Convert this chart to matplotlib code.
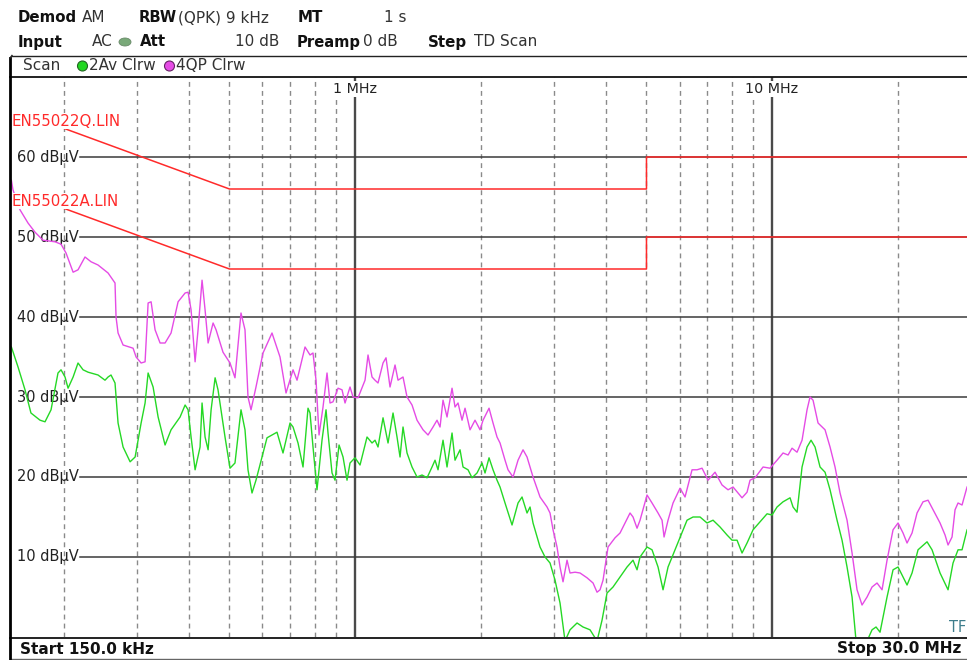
import matplotlib
matplotlib.use('Agg')
import matplotlib.pyplot as plt
from matplotlib.lines import Line2D
from matplotlib.patches import Ellipse
import matplotlib.transforms as mtransforms

W, H = 967, 660

# ---------------- data (frequency in MHz, level in dBµV) ----------------
qp_freq = [0.150, 0.1513, 0.1573, 0.1644, 0.1709, 0.1786, 0.1909, 0.1973, 0.2028, 0.2109,
           0.2167, 0.2252, 0.2329, 0.2420, 0.2558, 0.2658, 0.2673, 0.2703, 0.2779, 0.2937,
           0.2986, 0.3070, 0.3138, 0.3191, 0.3244, 0.3316, 0.3409, 0.3504, 0.3622, 0.3765,
           0.3914, 0.3979, 0.4045, 0.4136, 0.4204, 0.4298, 0.4370, 0.4444, 0.4568, 0.4644,
           0.4825, 0.5015, 0.5155, 0.5329, 0.5448, 0.5539, 0.5632, 0.5789, 0.6018, 0.6324,
           0.6610, 0.6833, 0.7103, 0.7261, 0.7589, 0.7801, 0.7931, 0.8064, 0.8199, 0.8382,
           0.8569, 0.8712, 0.8858, 0.9106, 0.9309, 0.9465, 0.9729, 0.9892, 1.0169, 1.0570,
           1.0746, 1.0986, 1.1169, 1.1356, 1.1674, 1.1868, 1.2134, 1.2474, 1.2682, 1.3037,
           1.3328, 1.3701, 1.4085, 1.4559, 1.4967, 1.5386, 1.5729, 1.5992, 1.6259, 1.6622,
           1.7088, 1.7373, 1.7664, 1.8058, 1.8360, 1.8873, 1.9401, 1.9945, 2.0278, 2.0962,
           2.1429, 2.1907, 2.2273, 2.2897, 2.3280, 2.3931, 2.4601, 2.5289, 2.5854, 2.6286,
           2.6725, 2.7778, 2.8873, 2.9355, 2.9845, 3.0511, 3.1021, 3.1539, 3.2243, 3.2782,
           3.3700, 3.4644, 3.6009, 3.7222, 3.8053, 3.8689, 3.9335, 4.0436, 4.2030, 4.3206,
           4.4416, 4.5659, 4.6422, 4.7459, 4.8251, 5.0152, 5.1556, 5.3294, 5.4484, 5.5093,
           5.6320, 5.7896, 6.0177, 6.1862, 6.4300, 6.6101, 6.7951, 7.0239, 7.3008, 7.5884,
           7.8440, 8.0636, 8.2894, 8.4744, 8.7117, 8.8572, 9.1052, 9.5163, 9.8913, 10.281,
           10.628, 10.925, 11.169, 11.481, 11.803, 12.133, 12.336, 12.542, 12.893, 13.401,
           13.776, 14.161, 14.558, 15.132, 15.556, 15.991, 16.438, 16.899, 17.372, 17.858,
           18.358, 18.872, 19.507, 20.053, 20.615, 21.075, 21.665, 22.271, 23.021, 23.665,
           24.328, 25.287, 25.995, 26.429, 27.019, 27.470, 27.929, 28.553, 29.352, 30.0]
qp_level = [57.1, 55.9, 53.4, 51.75, 50.6, 49.6, 49.4, 49.1, 48.0, 45.6,
            45.9, 47.5, 46.9, 46.5, 45.5, 44.25, 40.0, 38.0, 36.5, 36.1,
            35.0, 34.25, 34.4, 41.75, 41.9, 38.4, 36.75, 36.75, 38.0, 41.9,
            43.0, 43.1, 40.9, 34.4, 38.4, 44.6, 40.9, 36.75, 39.25, 38.4,
            35.6, 34.25, 32.4, 40.5, 38.4, 30.0, 28.4, 31.25, 35.5, 38.0,
            35.0, 30.5, 33.4, 32.1, 36.25, 35.25, 35.5, 32.1, 25.25, 28.75,
            33.0, 29.25, 29.4, 31.1, 30.9, 29.25, 31.25, 30.0, 29.9, 32.1,
            35.25, 32.5, 32.1, 31.75, 34.25, 34.9, 31.25, 34.0, 32.1, 32.5,
            30.0, 29.0, 27.1, 25.9, 25.25, 26.25, 27.1, 26.25, 29.6, 27.5,
            31.1, 28.75, 29.25, 27.1, 28.6, 25.9, 27.1, 25.9, 27.1, 28.6,
            26.75, 25.0, 24.25, 22.1, 20.9, 20.0, 22.1, 23.4, 22.5, 21.25,
            20.0, 17.5, 16.25, 15.5, 13.4, 11.25, 8.75, 6.9, 9.6, 8.0,
            8.1, 8.0, 7.4, 6.75, 5.6, 5.9, 7.1, 11.25, 12.4, 13.0,
            14.25, 15.5, 15.0, 13.6, 14.6, 17.75, 16.75, 15.5, 14.6, 12.5,
            14.6, 16.75, 18.6, 17.5, 20.9, 20.9, 21.1, 19.6, 20.6, 19.0,
            18.4, 18.75, 18.0, 17.4, 18.1, 19.6, 19.9, 21.25, 21.1, 22.1,
            23.0, 22.75, 23.6, 23.1, 24.6, 28.4, 30.0, 29.6, 26.75, 25.9,
            23.75, 21.25, 18.0, 14.6, 10.5, 5.9, 4.0, 5.0, 6.25, 6.75,
            5.9, 9.6, 13.4, 14.25, 13.0, 11.75, 13.0, 15.5, 16.9, 17.1,
            15.9, 14.25, 12.75, 11.5, 12.5, 15.9, 16.75, 16.5, 18.75, 19.5]

av_freq = [0.150, 0.1556, 0.1617, 0.1671, 0.1757, 0.1806, 0.1867, 0.1940, 0.1973, 0.2017,
           0.2051, 0.2109, 0.2167, 0.2228, 0.2291, 0.2420, 0.2515, 0.2558, 0.2600, 0.2658,
           0.2703, 0.2779, 0.2889, 0.2970, 0.3070, 0.3138, 0.3191, 0.3280, 0.3372, 0.3504,
           0.3622, 0.3807, 0.3914, 0.3979, 0.4045, 0.4136, 0.4251, 0.4298, 0.4370, 0.4444,
           0.4518, 0.4619, 0.4694, 0.4879, 0.5015, 0.5155, 0.5329, 0.5448, 0.5539, 0.5663,
           0.5789, 0.6018, 0.6152, 0.6501, 0.6720, 0.6986, 0.7103, 0.7301, 0.7505, 0.7715,
           0.7801, 0.7931, 0.8108, 0.8335, 0.8522, 0.8616, 0.8809, 0.8956, 0.9157, 0.9361,
           0.9569, 0.9729, 1.0000, 1.0282, 1.0687, 1.0986, 1.1169, 1.1356, 1.1674, 1.2001,
           1.2337, 1.2612, 1.2823, 1.3037, 1.3328, 1.3701, 1.4085, 1.4479, 1.4885, 1.5301,
           1.5557, 1.5816, 1.6259, 1.6622, 1.7088, 1.7373, 1.7860, 1.8158, 1.8666, 1.9083,
           1.9617, 2.0166, 2.0503, 2.0962, 2.1429, 2.1907, 2.2273, 2.2897, 2.3799, 2.4601,
           2.5150, 2.5854, 2.6286, 2.6725, 2.7778, 2.8556, 2.9355, 3.0177, 3.1021, 3.1890,
           3.2782, 3.4075, 3.5222, 3.6610, 3.8053, 3.9118, 4.0214, 4.1568, 4.3206, 4.4909,
           4.6422, 4.7459, 4.8251, 5.0152, 5.1556, 5.3294, 5.4786, 5.6320, 5.8540, 6.0177,
           6.2548, 6.4656, 6.7205, 6.9853, 7.2205, 7.5051, 7.8008, 8.0191, 8.2437, 8.4744,
           8.7117, 9.0051, 9.3600, 9.7289, 10.001, 10.281, 10.628, 11.046, 11.230, 11.481,
           11.803, 12.133, 12.404, 12.681, 13.036, 13.401, 13.776, 14.319, 14.720, 15.132,
           15.556, 15.903, 16.899, 17.372, 17.760, 18.156, 18.872, 19.507, 20.053, 20.615,
           21.075, 21.665, 22.394, 23.535, 24.194, 25.287, 26.429, 27.168, 27.929, 28.553,
           29.352, 30.0]
av_level = [36.25, 33.75, 30.9, 28.0, 27.1, 26.9, 28.4, 33.0, 33.4, 32.5,
            31.1, 32.5, 34.25, 33.4, 33.1, 32.75, 32.1, 32.5, 32.75, 31.75,
            26.75, 23.75, 21.9, 22.5, 26.75, 29.25, 33.0, 31.25, 27.5, 24.0,
            25.9, 27.5, 29.0, 28.4, 25.0, 20.9, 23.75, 29.25, 25.0, 23.4,
            28.4, 32.4, 30.9, 25.0, 21.1, 21.75, 28.4, 25.9, 20.9, 18.0,
            19.6, 23.0, 24.9, 25.6, 23.0, 26.75, 26.25, 24.25, 21.25, 28.6,
            28.0, 23.75, 18.4, 24.6, 28.4, 25.5, 20.5, 19.6, 24.0, 22.5,
            19.6, 21.75, 22.4, 21.5, 25.0, 24.25, 24.6, 23.75, 27.4, 24.25,
            28.0, 25.0, 22.5, 26.25, 23.0, 21.25, 20.0, 20.25, 19.9, 21.25,
            22.1, 20.9, 24.6, 21.25, 25.5, 22.1, 23.4, 21.25, 20.9, 19.9,
            20.5, 21.75, 20.5, 22.4, 20.9, 19.6, 18.75, 16.75, 14.0, 16.75,
            17.5, 15.5, 16.25, 14.25, 11.25, 10.0, 9.25, 7.1, 4.25, -0.5,
            0.9, 1.75, 1.25, 0.9, -0.5, 2.1, 5.5, 6.25, 7.5, 8.75,
            9.6, 8.4, 10.0, 11.25, 10.9, 8.75, 5.9, 8.75, 10.9, 12.4,
            14.6, 15.0, 15.0, 14.25, 14.6, 13.75, 12.75, 12.1, 12.1, 10.5,
            11.75, 13.4, 14.4, 15.4, 15.25, 16.25, 16.9, 17.4, 16.25, 15.6,
            21.25, 23.75, 24.6, 23.75, 21.25, 20.6, 18.4, 14.6, 12.1, 8.75,
            5.0, -0.5, -0.5, 0.9, 1.25, 0.6, 5.0, 8.4, 8.75, 7.5,
            6.5, 8.0, 10.9, 11.9, 10.9, 8.0, 5.9, 9.25, 10.9, 10.9,
            13.4, 14.0]

limQ_freq = [0.2, 0.5, 5.0, 5.0, 30.0]
limQ_level = [63.6, 56, 56, 60, 60]
limA_freq = [0.2, 0.5, 5.0, 5.0, 30.0]
limA_level = [53.6, 46, 46, 50, 50]

level_ticks = [10, 20, 30, 40, 50, 60]
decade_freqs = [1.0, 10.0]
decade_labels = ['1 MHz', '10 MHz']
minor_freqs = [0.2, 0.3, 0.4, 0.5, 0.6, 0.7, 0.8, 0.9,
               2, 3, 4, 5, 6, 7, 8, 9, 20]

# ---------------- styling ----------------
QP_COLOR = '#e54be5'
AV_COLOR = '#25d825'
LIM_COLOR = '#ff2a2a'
GRID_DARK = '#3a3a3a'
FS = 11

plt.rcParams['font.family'] = ['DejaVu Sans']

fig = plt.figure(figsize=(W / 100, H / 100), dpi=100)
fig.patch.set_facecolor('white')


def fx(x):
    return x / W


def fy(y):
    return 1 - y / H


# plot axes (right edge extends slightly beyond the screenshot)
left_px, right_px, top_px, bot_px = 11.4, 971.0, 77.0, 637.0
ax = fig.add_axes([fx(left_px), fy(bot_px), (right_px - left_px) / W, (bot_px - top_px) / H])
ax.set_xscale('log')
ax.set_xlim(0.15, 30.0)
ax.set_ylim(0, 70)
ax.set_xticks([])
ax.set_yticks([])
ax.minorticks_off()
for s in ax.spines.values():
    s.set_visible(False)
ax.set_facecolor('white')

# grid
for f in minor_freqs:
    ax.axvline(f, color='#8a8a8a', lw=1.0, ls=(0, (3.5, 3)), zorder=1)
for f in decade_freqs:
    ax.axvline(f, color='#4a4a4a', lw=1.7, zorder=1)
gx0 = 0.0715
for lv in level_ticks:
    ax.axhline(lv, xmin=gx0, xmax=1, color=GRID_DARK, lw=1.1, zorder=1)

blend = mtransforms.blended_transform_factory(ax.transAxes, ax.transData)
for lv in level_ticks:
    ax.text(gx0 - 0.001, lv, f'{lv} dBµV', transform=blend, ha='right', va='center',
            fontsize=10.5, color='#222222', zorder=2)

for f, lab in zip(decade_freqs, decade_labels):
    ax.text(f, 68.5, lab, ha='center', va='center', fontsize=10.3, color='#222222',
            bbox=dict(facecolor='white', edgecolor='none', pad=0.5), zorder=3)

# traces
ax.plot(av_freq, av_level, color=AV_COLOR, lw=1.0, zorder=4)
ax.plot(qp_freq, qp_level, color=QP_COLOR, lw=1.0, zorder=5)

# limit lines
ax.plot(limQ_freq, limQ_level, color=LIM_COLOR, lw=1.1, zorder=6)
ax.plot(limA_freq, limA_level, color=LIM_COLOR, lw=1.1, zorder=6)

ax.text(0.0, 64.5, 'EN55022Q.LIN', transform=blend, ha='left', va='center', fontsize=10.8,
        color=LIM_COLOR, bbox=dict(facecolor='white', edgecolor='none', pad=0.6), zorder=7)
ax.text(0.0, 54.5, 'EN55022A.LIN', transform=blend, ha='left', va='center', fontsize=10.8,
        color=LIM_COLOR, bbox=dict(facecolor='white', edgecolor='none', pad=0.6), zorder=7)

ax.text(0.977, 1.2, 'TF', transform=blend, ha='left', va='center', fontsize=10.5,
        color='#3d7d8c', zorder=7, clip_on=False)

# ---------------- frame ----------------
def hline(y, x0, x1, color='black', lw=1.0):
    fig.add_artist(Line2D([fx(x0), fx(x1)], [fy(y), fy(y)], color=color, lw=lw))


def vline(x, y0, y1, color='black', lw=1.0):
    fig.add_artist(Line2D([fx(x), fx(x)], [fy(y0), fy(y1)], color=color, lw=lw))


hline(55.5, 12, W, color='#222222', lw=1.0)
hline(77, 10, W, color='#111111', lw=1.3)
hline(637.5, 10, W, color='#111111', lw=1.3)
hline(658.5, 10, W, color='#666666', lw=1.0)
vline(10, 58, 659, color='black', lw=2.0)
fig.add_artist(Line2D([fx(10), fx(12)], [fy(58), fy(55.5)], color='#222222', lw=1.0))

# ---------------- header texts ----------------
def t(x, y, s, bold=False, color='#111111', size=FS, ha='left'):
    fig.text(fx(x), fy(y), s, ha=ha, va='center', fontsize=size,
             fontweight='bold' if bold else 'normal', color=color)


t(18, 18, 'Demod', bold=True, size=10.8)
t(82, 18, 'AM', color='#333333')
t(139, 18, 'RBW', bold=True, size=10.6)
t(178, 18, '(QPK) 9 kHz', color='#333333')
t(298, 18, 'MT', bold=True, size=10.8)
t(384, 18, '1 s', color='#333333')

t(18, 42, 'Input', bold=True, size=10.8)
t(92, 42, 'AC', color='#333333')
fig.add_artist(Ellipse((fx(125), fy(42)), 12 / W, 8 / H, facecolor='#79a979',
                       edgecolor='#6a8a6a', lw=0.6))
t(140, 42, 'Att', bold=True, size=10.8)
t(235, 42, '10 dB', color='#333333')
t(297, 42, 'Preamp', bold=True, size=10.6)
t(363, 42, '0 dB', color='#333333')
t(428, 42, 'Step', bold=True, size=10.8)
t(474, 42, 'TD Scan', color='#333333')

t(23, 66, 'Scan', color='#333333')
fig.add_artist(Ellipse((fx(82.5), fy(66)), 10 / W, 10 / H, facecolor='#22d822',
                       edgecolor='#226622', lw=0.8))
t(89, 66, '2Av Clrw', color='#333333')
fig.add_artist(Ellipse((fx(169.5), fy(66)), 10 / W, 10 / H, facecolor='#e64ce6',
                       edgecolor='#662266', lw=0.8))
t(176, 66, '4QP Clrw', color='#333333')

t(20, 649, 'Start 150.0 kHz', bold=True)
t(961, 649, 'Stop 30.0 MHz', bold=True, ha='right')

fig.savefig('out.png', dpi=100, facecolor='white')
